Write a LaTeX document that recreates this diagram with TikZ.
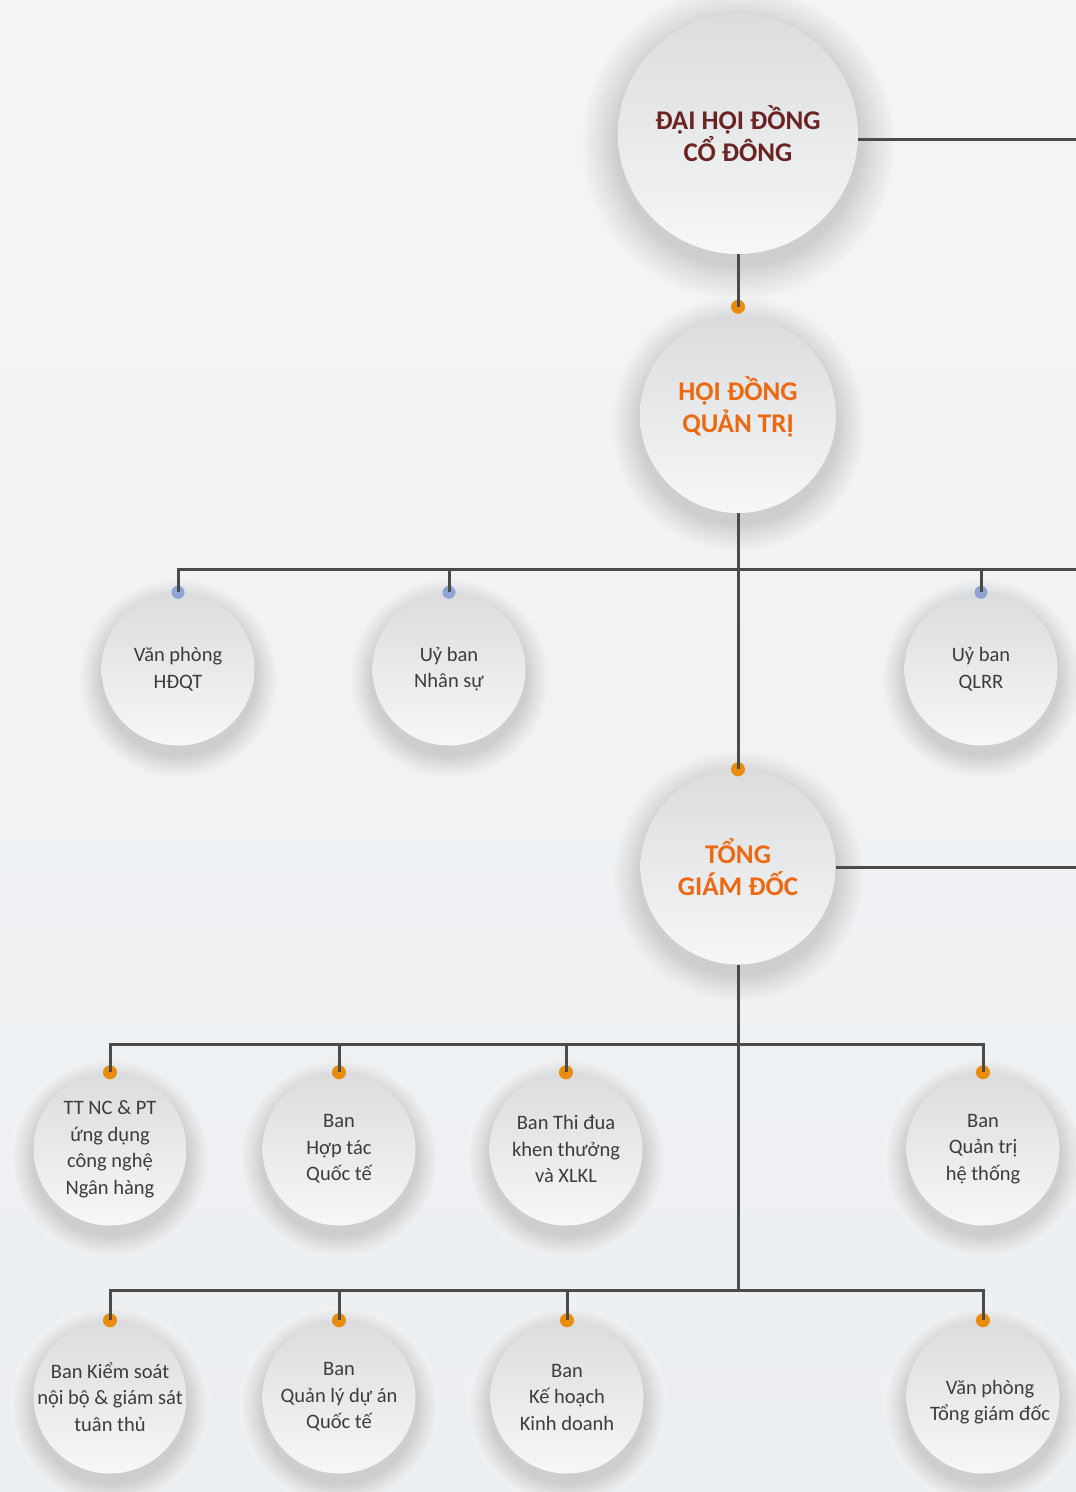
\documentclass[tikz,border=0pt]{standalone}
\usepackage{fontspec}
\setmainfont{Carlito}
\usetikzlibrary{shadows,calc}

\definecolor{bgtop}{HTML}{F4F5F6}
\definecolor{bgbot}{HTML}{ECEFF2}
\definecolor{bgmid}{HTML}{F0F2F4}
\definecolor{shd}{HTML}{CDCED0}
\definecolor{ctop}{HTML}{DBDCDE}
\definecolor{cbot}{HTML}{F5F7F9}
\definecolor{linecol}{HTML}{4B4B4B}
\definecolor{dotorange}{HTML}{E98B0B}
\definecolor{dotblue}{HTML}{8EA4D5}
\definecolor{headred}{HTML}{6A2421}
\definecolor{headorange}{HTML}{EC6912}
\definecolor{unittext}{HTML}{3C3C3C}

% soft ring under each circle
\pgfdeclareradialshading{glow}{\pgfpoint{0bp}{0bp}}{color(0bp)=(shd); color(19.5bp)=(shd); color(22bp)=(shd!50!bgmid); color(25bp)=(bgmid); color(50bp)=(bgmid)}

\newcommand\headfont{\fontsize{27}{32}\selectfont\bfseries}
\newcommand\unitfont{\fontsize{20.5}{26.5}\selectfont}

\begin{document}
\begin{tikzpicture}[
        x=1pt, y=-1pt, % pixel grid, y down
        cell/.style={circle, inner sep=-30pt, align=center, minimum size=#1,
            top color=ctop, bottom color=cbot,
            general shadow={shading=glow, shadow scale=1.3, shadow yshift=-7pt}},
        head/.style={cell=#1, font=\headfont},
        unit/.style={cell=153pt, font=\unitfont, text=unittext},
        conn/.style={draw=linecol, line width=3pt},
        dot/.style={fill=dotorange},
        bdot/.style={fill=dotblue},
    ]
    \useasboundingbox (0,0) rectangle (1076,1492);
    \shade[top color=bgtop, bottom color=bgbot] (0,0) rectangle (1076,1492);

    % top levels
    \node[head=240pt, text=headred] (dhcd) at (738,134) {ĐẠI HỘI ĐỒNG\\CỔ ĐÔNG};
    \node[head=196pt] (hdqt) at (738,415) {};
    \node[font=\headfont, text=headorange, align=center] (hdqtname) at (738,407) {HỘI ĐỒNG\\QUẢN TRỊ};
    \node[head=195pt, text=headorange] (tgd) at (738,867) {TỔNG\\GIÁM ĐỐC};

    % committees of the board
    \node[unit] (vp) at (178,669) {Văn phòng\\HĐQT};
    \node[unit] (ns) at (449,669) {Uỷ ban\\Nhân sự};
    \node[unit] (qlrr) at (981,669) {Uỷ ban\\QLRR};

    % units under the CEO
    \node[unit] (tt) at (110,1149) {TT NC \& PT\\ứng dụng\\công nghệ\\Ngân hàng};
    \node[unit] (hoptac) at (339,1149) {Ban\\Hợp tác\\Quốc tế};
    \node[unit] (thidua) at (566,1149) {Ban Thi đua\\khen thưởng\\và XLKL};
    \node[unit] (qtht) at (983,1149) {Ban\\Quản trị\\hệ thống};

    \node[unit] (ksnb) at (110,1397) {Ban Kiểm soát\\nội bộ \& giám sát\\tuân thủ};
    \node[unit] (qlda) at (339,1397) {Ban\\Quản lý dự án\\Quốc tế};
    \node[unit] (khkd) at (567,1397) {Ban\\Kế hoạch\\Kinh doanh};
    \node[unit] (vptgd) at (983,1397) {};
    \node[font=\unitfont, text=unittext, align=center] (vptgdname) at (990,1402) {Văn phòng\\Tổng giám đốc};

    \coordinate (hdqttop) at ($(hdqt.north)+(0,-10)$);
    \coordinate (dhcdR) at (1076,139);
    \coordinate (tgdR) at (1076,867);
    \coordinate (bus1R) at (1076,569);
    \coordinate (bus2) at ($(tgd.south)+(0,80)$);
    \coordinate (bus3) at ($(tgd.south)+(0,326)$);

    % dots
    \fill[dot] (hdqttop) circle[radius=7pt];
    \fill[dot] (tgd.north) circle[radius=7pt];
    \foreach \n in {vp,ns,qlrr}
        \fill[bdot] (\n.north) circle[radius=6.5pt];
    \foreach \n in {tt,hoptac,thidua,qtht,ksnb,qlda,khkd,vptgd}
        \fill[dot] (\n.north) circle[radius=7pt];

    % connectors
    \draw[conn] ([yshift=-5pt]dhcd.east) -- (dhcdR);
    \draw[conn] (dhcd.south) -- (hdqttop);
    \draw[conn] (hdqt.south) -- (tgd.north);
    \draw[conn] (vp.north) |- (bus1R);
    \foreach \n in {ns,qlrr}
        \draw[conn] (\n.north) -- (\n.north |- bus1R);
    \draw[conn] (tgd.east) -- (tgdR);
    \draw[conn] (tgd.south) -- (bus3);
    \draw[conn] (tt.north) |- (bus2) -| (qtht.north);
    \foreach \n in {hoptac,thidua}
        \draw[conn] (\n.north) -- (\n.north |- bus2);
    \draw[conn] (ksnb.north) |- (bus3) -| (vptgd.north);
    \foreach \n in {qlda,khkd}
        \draw[conn] (\n.north) -- (\n.north |- bus3);
\end{tikzpicture}
\end{document}
